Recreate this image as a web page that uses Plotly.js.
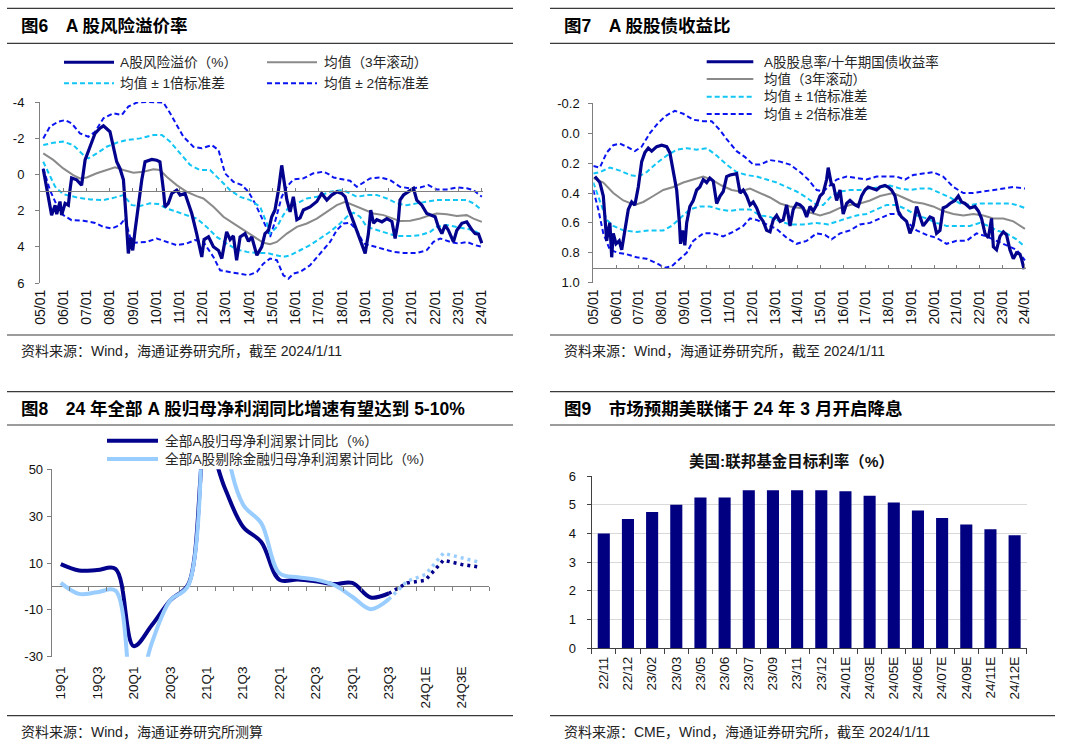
<!DOCTYPE html>
<html><head><meta charset="utf-8">
<script src="https://cdn.plot.ly/plotly-3.0.1.min.js"></script>
<style>html,body{margin:0;padding:0;background:#fff;}#chart{width:1080px;height:747px;}</style>
</head><body><div id="chart"></div>
<script>
// ---------- 图6 A股风险溢价率 (x: decimal year) ----------
const rpX = [2005.14,2005.29,2005.43,2005.50,2005.65,2005.72,2005.86,2005.93,2006.08,2006.22,2006.29,2006.36,2006.58,2006.79,2006.94,2007.08,2007.22,2007.37,2007.58,2007.73,2008.01,2008.16,2008.30,2008.44,2008.59,2008.70,2008.80,2008.90,2008.99,2009.09,2009.23,2009.38,2009.52,2009.81,2010.02,2010.16,2010.31,2010.38,2010.52,2010.67,2010.88,2011.03,2011.24,2011.38,2011.53,2011.74,2011.96,2012.06,2012.25,2012.46,2012.68,2012.82,2013.03,2013.18,2013.32,2013.46,2013.61,2013.82,2013.97,2014.11,2014.33,2014.54,2014.68,2014.83,2014.97,2015.11,2015.26,2015.40,2015.50,2015.62,2015.76,2015.90,2016.05,2016.19,2016.33,2016.62,2016.91,2017.12,2017.34,2017.55,2017.77,2017.98,2018.13,2018.27,2018.49,2018.63,2018.84,2018.99,2019.13,2019.23,2019.35,2019.49,2019.71,2019.92,2020.14,2020.28,2020.42,2020.49,2020.64,2020.85,2021.07,2021.21,2021.43,2021.64,2021.86,2022.00,2022.14,2022.29,2022.43,2022.57,2022.79,2022.93,2023.15,2023.36,2023.59,2023.72,2023.87,2024.01];
const rpY = [-0.3,0.7,1.6,2.25,1.7,2.2,1.5,2.25,1.6,1.7,0.87,0.2,0.3,0.6,-0.8,-1.25,-1.7,-2.27,-2.55,-2.68,-2.36,-1.53,-0.7,-0.33,0.3,2.3,4.37,3.5,4.2,3.1,1.6,0.3,-0.7,-0.83,-0.78,-0.7,0.87,1.8,1.6,1.05,0.87,1.14,1.05,1.6,2.16,3.27,4.56,3.6,3.45,4.0,4.2,4.65,3.17,3.6,3.4,4.74,3.45,3.27,3.7,3.45,4.47,4.0,3.27,3.1,2.34,1.97,0.87,-0.5,0.3,1.4,2.07,1.24,2.5,2.4,1.97,1.8,1.5,1.05,1.42,1.14,0.96,1.05,1.24,1.88,2.62,3.08,3.82,4.37,3.27,1.97,2.7,2.5,2.62,2.44,2.6,3.54,2.5,1.42,1.14,0.96,0.77,1.42,1.7,2.16,2.25,2.34,2.9,3.27,2.8,3.08,3.73,3.1,2.7,2.62,3.08,3.27,3.3,3.8];
const rpMeanX = [2005.14,2005.57,2006.00,2006.43,2006.72,2007.01,2007.44,2007.87,2008.23,2008.59,2009.02,2009.45,2009.88,2010.16,2010.45,2010.88,2011.31,2011.74,2012.03,2012.46,2012.89,2013.32,2013.75,2014.18,2014.61,2014.90,2015.19,2015.62,2016.05,2016.48,2016.91,2017.34,2017.77,2018.13,2018.49,2018.92,2019.35,2019.78,2020.21,2020.49,2020.93,2021.36,2021.79,2022.07,2022.50,2022.93,2023.36,2023.65,2024.01];
const rpMeanY = [-1.16,-0.8,-0.33,0.04,0.22,0.17,-0.06,-0.24,-0.39,-0.24,-0.09,-0.15,-0.28,-0.24,0.13,0.59,0.96,1.2,1.33,1.79,2.34,2.71,3.08,3.45,3.78,3.86,3.73,3.27,2.9,2.71,2.44,2.07,1.7,1.51,1.7,1.97,2.16,2.25,2.44,2.58,2.56,2.44,2.25,2.16,2.2,2.3,2.25,2.44,2.62];
const rpS1UpX = [2005.14,2005.57,2006.00,2006.43,2006.87,2007.08,2007.44,2007.87,2008.30,2008.73,2009.30,2009.88,2010.24,2010.60,2011.03,2011.46,2011.89,2012.32,2012.75,2013.18,2013.61,2014.04,2014.47,2014.76,2014.90,2015.19,2015.47,2015.76,2016.05,2016.48,2016.91,2017.48,2017.91,2018.20,2018.63,2019.06,2019.49,2019.92,2020.35,2020.78,2021.21,2021.64,2022.07,2022.50,2022.93,2023.36,2023.65,2024.01];
const rpS1UpY = [-1.62,-1.75,-1.81,-1.62,-1.07,-0.89,-1.16,-1.53,-1.75,-1.9,-1.99,-2.18,-2.18,-1.81,-1.16,-0.52,-0.24,-0.24,0.31,0.87,1.24,1.42,1.79,2.71,3.27,2.9,2.25,1.7,1.6,1.33,1.24,0.96,0.87,0.96,1.24,1.14,1.14,1.33,1.6,1.7,1.6,1.51,1.42,1.42,1.42,1.42,1.6,1.97];
const rpS1LoX = [2005.14,2005.36,2005.65,2006.00,2006.58,2007.15,2007.73,2008.23,2008.59,2008.95,2009.30,2009.73,2010.09,2010.45,2010.88,2011.31,2011.74,2012.17,2012.60,2013.03,2013.46,2013.90,2014.33,2014.76,2015.19,2015.47,2015.76,2016.19,2016.62,2017.05,2017.48,2017.91,2018.20,2018.49,2018.77,2019.06,2019.49,2019.92,2020.35,2020.93,2021.36,2021.79,2022.07,2022.50,2022.93,2023.36,2023.65,2024.01];
const rpS1LoY = [-0.7,-0.06,0.68,1.09,1.27,1.38,1.42,1.27,1.14,1.7,1.75,1.6,1.64,1.88,2.07,2.25,2.44,2.9,3.45,3.82,4.15,4.28,4.34,4.34,4.47,4.56,4.47,4.19,3.91,3.54,3.17,2.71,2.34,2.12,2.34,2.9,3.08,3.27,3.41,3.41,3.36,3.17,2.9,2.8,2.9,2.99,3.08,3.36];
const rpS2UpX = [2005.14,2005.43,2005.79,2006.08,2006.36,2006.72,2007.08,2007.37,2007.73,2008.16,2008.52,2008.80,2009.16,2009.66,2010.31,2010.60,2010.88,2011.17,2011.60,2011.96,2012.39,2012.68,2012.96,2013.32,2013.68,2013.97,2014.25,2014.54,2014.76,2014.90,2015.11,2015.40,2015.62,2015.90,2016.33,2016.76,2017.19,2017.41,2017.63,2018.06,2018.34,2018.63,2018.92,2019.20,2019.63,2020.06,2020.49,2020.93,2021.36,2021.71,2022.07,2022.50,2022.93,2023.36,2023.65,2024.01];
const rpS2UpY = [-1.99,-2.64,-2.92,-3.0,-2.82,-2.27,-2.08,-2.36,-3.1,-3.38,-3.28,-3.75,-3.97,-4.0,-3.97,-3.38,-2.73,-2.08,-1.53,-1.44,-1.62,-1.35,-0.06,0.41,0.59,0.96,1.6,2.34,2.99,3.45,2.62,1.24,0.68,0.28,0.22,-0.06,-0.15,-0.02,0.17,0.28,0.35,0.68,0.46,0.22,0.17,0.31,0.68,0.77,0.72,0.59,0.83,0.83,0.72,0.77,0.87,1.24];
const rpS2LoX = [2005.14,2005.43,2005.72,2006.00,2006.36,2006.87,2007.37,2007.73,2008.08,2008.44,2008.66,2008.87,2009.09,2009.59,2010.02,2010.45,2010.88,2011.31,2011.67,2012.03,2012.46,2012.75,2013.18,2013.61,2013.97,2014.33,2014.61,2014.90,2015.19,2015.47,2015.69,2015.90,2016.19,2016.62,2017.05,2017.48,2017.77,2018.06,2018.34,2018.63,2018.92,2019.35,2019.78,2020.21,2020.64,2021.21,2021.64,2021.93,2022.22,2022.65,2023.01,2023.36,2023.72,2024.01];
const rpS2LoY = [-0.33,0.87,1.7,2.25,2.53,2.56,2.68,2.9,2.99,2.8,2.44,3.45,3.78,3.73,3.54,3.73,3.91,3.82,3.63,3.73,4.56,5.3,5.39,5.48,5.57,5.39,4.93,4.65,4.74,5.57,5.76,5.48,5.39,5.02,4.37,3.73,3.08,2.71,2.68,3.08,3.82,3.97,4.1,4.28,4.34,4.34,4.19,3.73,3.54,3.73,3.82,3.73,3.91,4.0];
const rpTickVals = [-4,-2,0,2,4,6];
const rpTickText = ['-4','-2','0','2','4','6'];

// ---------- 图7 A股股债收益比 ----------
const dyX = [2005.07,2005.29,2005.44,2005.51,2005.59,2005.66,2005.73,2005.81,2005.88,2006.00,2006.14,2006.25,2006.39,2006.54,2006.69,2006.83,2006.98,2007.13,2007.27,2007.42,2007.57,2007.79,2008.01,2008.23,2008.37,2008.52,2008.67,2008.79,2008.84,2008.93,2009.03,2009.11,2009.25,2009.40,2009.55,2009.69,2009.84,2009.99,2010.13,2010.28,2010.43,2010.58,2010.72,2010.87,2011.02,2011.31,2011.46,2011.60,2011.75,2011.90,2012.04,2012.19,2012.34,2012.48,2012.63,2012.78,2012.92,2013.07,2013.22,2013.36,2013.51,2013.66,2013.80,2013.95,2014.10,2014.24,2014.39,2014.54,2014.68,2014.83,2014.98,2015.12,2015.27,2015.34,2015.42,2015.49,2015.56,2015.71,2015.86,2016.00,2016.15,2016.30,2016.52,2016.66,2016.81,2016.96,2017.10,2017.32,2017.47,2017.62,2017.84,2017.98,2018.13,2018.28,2018.42,2018.57,2018.79,2018.94,2019.08,2019.23,2019.38,2019.52,2019.67,2019.82,2019.96,2020.11,2020.26,2020.40,2020.55,2020.70,2020.92,2021.07,2021.21,2021.36,2021.58,2021.80,2021.95,2022.09,2022.24,2022.39,2022.53,2022.61,2022.75,2022.90,2023.05,2023.19,2023.34,2023.49,2023.63,2023.78,2023.85,2023.96];
const dyY = [0.29,0.33,0.42,0.58,0.72,0.65,0.60,0.83,0.67,0.74,0.72,0.78,0.65,0.51,0.46,0.48,0.36,0.19,0.13,0.10,0.12,0.09,0.08,0.09,0.13,0.27,0.38,0.60,0.74,0.65,0.75,0.60,0.49,0.45,0.38,0.36,0.31,0.33,0.30,0.32,0.47,0.42,0.39,0.29,0.28,0.27,0.40,0.38,0.42,0.48,0.46,0.50,0.56,0.59,0.65,0.66,0.58,0.55,0.59,0.58,0.48,0.62,0.51,0.47,0.48,0.50,0.56,0.49,0.52,0.48,0.42,0.40,0.31,0.23,0.31,0.35,0.34,0.45,0.38,0.54,0.47,0.45,0.48,0.49,0.42,0.38,0.36,0.37,0.38,0.36,0.35,0.36,0.38,0.42,0.52,0.56,0.59,0.67,0.62,0.49,0.56,0.62,0.59,0.56,0.57,0.67,0.65,0.50,0.49,0.47,0.45,0.42,0.46,0.47,0.50,0.49,0.52,0.57,0.67,0.70,0.57,0.76,0.78,0.69,0.66,0.68,0.78,0.84,0.80,0.81,0.84,0.91];
const dyMeanX = [2005.00,2005.44,2005.88,2006.32,2006.83,2007.20,2007.64,2008.08,2008.52,2008.96,2009.40,2009.84,2010.21,2010.65,2011.09,2011.46,2011.90,2012.34,2012.78,2013.22,2013.66,2014.10,2014.54,2014.98,2015.42,2015.86,2016.30,2016.74,2017.18,2017.62,2018.20,2018.64,2019.08,2019.52,2019.96,2020.40,2020.85,2021.29,2021.73,2022.17,2022.61,2023.05,2023.49,2024.00];
const dyMeanY = [0.30,0.33,0.40,0.45,0.48,0.46,0.42,0.38,0.36,0.33,0.31,0.29,0.31,0.35,0.38,0.39,0.37,0.40,0.43,0.47,0.49,0.50,0.53,0.55,0.53,0.50,0.48,0.47,0.45,0.42,0.40,0.43,0.46,0.47,0.49,0.52,0.54,0.55,0.54,0.55,0.57,0.57,0.59,0.64];
const dyS1UpX = [2005.00,2005.29,2005.73,2006.17,2006.61,2006.98,2007.35,2007.79,2008.23,2008.67,2009.11,2009.55,2009.99,2010.43,2010.87,2011.31,2011.75,2012.19,2012.63,2013.07,2013.51,2013.95,2014.39,2014.83,2015.12,2015.49,2015.86,2016.30,2016.74,2017.18,2017.62,2018.06,2018.50,2018.94,2019.38,2019.82,2020.26,2020.70,2021.14,2021.58,2022.02,2022.47,2022.91,2023.34,2023.63,2024.00];
const dyS1UpY = [0.27,0.26,0.23,0.25,0.28,0.29,0.26,0.20,0.15,0.11,0.10,0.11,0.10,0.15,0.21,0.26,0.28,0.29,0.31,0.33,0.36,0.39,0.43,0.48,0.48,0.42,0.39,0.38,0.38,0.37,0.36,0.35,0.37,0.38,0.37,0.37,0.40,0.43,0.47,0.48,0.47,0.47,0.47,0.47,0.48,0.50];
const dyS1LoX = [2005.00,2005.29,2005.59,2005.88,2006.32,2006.91,2007.49,2008.08,2008.45,2008.81,2009.25,2009.69,2010.13,2010.58,2011.02,2011.46,2011.90,2012.34,2012.78,2013.22,2013.66,2014.24,2014.83,2015.34,2015.71,2016.15,2016.59,2017.03,2017.47,2017.91,2018.35,2018.79,2019.23,2019.67,2020.11,2020.55,2021.14,2021.58,2022.02,2022.39,2022.75,2023.19,2023.63,2024.00];
const dyS1LoY = [0.33,0.45,0.58,0.62,0.65,0.66,0.65,0.65,0.62,0.57,0.51,0.49,0.49,0.51,0.52,0.51,0.51,0.55,0.56,0.59,0.61,0.61,0.60,0.61,0.59,0.57,0.55,0.54,0.51,0.48,0.48,0.51,0.55,0.57,0.60,0.62,0.62,0.62,0.60,0.62,0.65,0.67,0.71,0.76];
const dyS2UpX = [2005.00,2005.29,2005.59,2005.88,2006.17,2006.47,2006.83,2007.13,2007.49,2007.86,2008.23,2008.59,2008.96,2009.40,2009.84,2010.21,2010.58,2010.87,2011.31,2011.68,2012.04,2012.34,2012.78,2013.22,2013.66,2014.10,2014.46,2014.83,2015.12,2015.42,2015.71,2016.15,2016.59,2017.03,2017.47,2017.91,2018.35,2018.72,2019.08,2019.52,2019.96,2020.40,2020.85,2021.29,2021.73,2022.17,2022.61,2023.05,2023.49,2024.00];
const dyS2UpY = [0.22,0.23,0.13,0.08,0.07,0.09,0.12,0.09,0.00,-0.07,-0.12,-0.15,-0.13,-0.09,-0.08,-0.08,-0.02,0.04,0.12,0.16,0.21,0.21,0.18,0.19,0.21,0.26,0.31,0.38,0.39,0.35,0.31,0.29,0.30,0.31,0.29,0.29,0.29,0.31,0.28,0.27,0.26,0.29,0.36,0.40,0.40,0.39,0.38,0.37,0.36,0.37];
const dyS2LoX = [2005.00,2005.22,2005.44,2005.73,2006.10,2006.47,2006.91,2007.35,2007.79,2008.15,2008.45,2008.81,2009.11,2009.40,2009.84,2010.28,2010.72,2011.16,2011.60,2011.90,2012.19,2012.63,2013.07,2013.51,2013.95,2014.39,2014.83,2015.20,2015.49,2015.86,2016.30,2016.74,2017.18,2017.62,2018.06,2018.42,2018.79,2019.23,2019.67,2020.11,2020.55,2020.99,2021.43,2021.87,2022.31,2022.75,2023.19,2023.63,2024.00];
const dyS2LoY = [0.38,0.51,0.67,0.78,0.80,0.81,0.83,0.84,0.87,0.90,0.89,0.84,0.80,0.72,0.67,0.67,0.69,0.66,0.62,0.57,0.58,0.61,0.64,0.70,0.74,0.72,0.67,0.68,0.71,0.67,0.65,0.61,0.60,0.57,0.54,0.54,0.59,0.65,0.68,0.70,0.74,0.72,0.72,0.67,0.69,0.72,0.75,0.78,0.85];
const dyTickVals = [-0.2,0,0.2,0.4,0.6,0.8,1.0];
const dyTickText = ['-0.2','0.0','0.2','0.4','0.6','0.8','1.0'];

const yearTicks = [2005,2006,2007,2008,2009,2010,2011,2012,2013,2014,2015,2016,2017,2018,2019,2020,2021,2022,2023,2024];
const yearTickLabels = ['05/01','06/01','07/01','08/01','09/01','10/01','11/01','12/01','13/01','14/01','15/01','16/01','17/01','18/01','19/01','20/01','21/01','22/01','23/01','24/01'];

// ---------- 图8 归母净利润累计同比 ----------
const quarters = ['19Q1','19Q2','19Q3','19Q4','20Q1','20Q2','20Q3','20Q4','21Q1','21Q2','21Q3','21Q4','22Q1','22Q2','22Q3','22Q4','23Q1','23Q2','23Q3','23Q4','24Q1E','24Q2E','24Q3E','24Q4E'];
const actualQuarters = ['19Q1','19Q2','19Q3','19Q4','20Q1','20Q2','20Q3','20Q4','21Q1','21Q2','21Q3','21Q4','22Q1','22Q2','22Q3','22Q4','23Q1','23Q2','23Q3'];
const allAProfit = [9.5,6.8,7.0,7.5,-25.5,-16.5,-6,1,62,42,25.5,19,2.8,3.0,2.2,1.0,1.5,-4.7,-3];
const exFinProfit = [1.5,-3.2,-2.5,-1.8,-50,-24,-6,0.5,180,65,35,27,5.6,3.9,2.9,0.6,-4.4,-9.7,-5.5];
const forecastQuarters = ['23Q3','23Q4','24Q1E','24Q2E','24Q3E','24Q4E'];
const allAForecast = [-3,1.5,2.6,11.2,9.4,8.2];
const exFinForecast = [-5.5,2.2,5.0,14.2,12.2,10.3];
const quarterTickLabels = ['19Q1','19Q3','20Q1','20Q3','21Q1','21Q3','22Q1','22Q3','23Q1','23Q3','24Q1E','24Q3E'];
const profitTickVals = [-30,-10,10,30,50];
const profitTickText = ['-30','-10','10','30','50'];

// ---------- 图9 联邦基金目标利率 ----------
const fedMonths = ['22/11','22/12','23/02','23/03','23/05','23/06','23/07','23/09','23/11','23/12','24/01E','24/03E','24/05E','24/06E','24/07E','24/09E','24/11E','24/12E'];
const fedRate = [4.0,4.5,4.75,5.0,5.25,5.25,5.5,5.5,5.5,5.5,5.47,5.31,5.08,4.8,4.54,4.31,4.15,3.94];

// ---------- text ----------
const titles = ['图6\u2003A 股风险溢价率','图7\u2003A 股股债收益比','图8\u200324 年全部 A 股归母净利润同比增速有望达到 5-10%','图9\u2003市场预期美联储于 24 年 3 月开启降息'];
const sources = ['资料来源：Wind，海通证券研究所，截至 2024/1/11','资料来源：Wind，海通证券研究所，截至 2024/1/11','资料来源：Wind，海通证券研究所测算','资料来源：CME，Wind，海通证券研究所，截至 2024/1/11'];
const legend6 = ['A股风险溢价（%）','均值（3年滚动）','均值 ± 1倍标准差','均值 ± 2倍标准差'];
const legend7 = ['A股股息率/十年期国债收益率','均值（3年滚动）','均值 ± 1倍标准差','均值 ± 2倍标准差'];
const legend8 = ['全部A股归母净利润累计同比（%）','全部A股剔除金融归母净利润累计同比（%）'];
const fedTitle = '美国:联邦基金目标利率（%）';

// ---------- layout helpers ----------
const W = 1080, H = 747;
const FONT = 'Liberation Sans, "Noto Sans CJK SC", sans-serif';
const fx = v => v / W;
const fy = v => 1 - v / H;
const NAVY = '#02028c', CYAN = '#11c6f5', BLUE = '#0a14f0', GRAY = '#8a8a8a', LIGHT = '#99ccff', BAR = '#000080';
const AXC = '#7f7f7f', TXT = '#111111';

function ln(x, y, xa, ya, color, width, dash, shape) {
  return {type:'scatter', mode:'lines', x:x, y:y, xaxis:xa, yaxis:ya,
    line:{color:color, width:width, dash:dash || 'solid', shape:shape || 'linear', smoothing:1},
    hoverinfo:'skip', showlegend:false};
}
const D = '5px,3px';
const traces = [
  ln(rpS2UpX, rpS2UpY, 'x', 'y', BLUE, 2, D),
  ln(rpS2LoX, rpS2LoY, 'x', 'y', BLUE, 2, D),
  ln(rpS1UpX, rpS1UpY, 'x', 'y', CYAN, 2, D),
  ln(rpS1LoX, rpS1LoY, 'x', 'y', CYAN, 2, D),
  ln(rpMeanX, rpMeanY, 'x', 'y', GRAY, 2),
  ln(rpX, rpY, 'x', 'y', NAVY, 3.2),
  ln(dyS2UpX, dyS2UpY, 'x2', 'y2', BLUE, 2, D),
  ln(dyS2LoX, dyS2LoY, 'x2', 'y2', BLUE, 2, D),
  ln(dyS1UpX, dyS1UpY, 'x2', 'y2', CYAN, 2, D),
  ln(dyS1LoX, dyS1LoY, 'x2', 'y2', CYAN, 2, D),
  ln(dyMeanX, dyMeanY, 'x2', 'y2', GRAY, 2),
  ln(dyX, dyY, 'x2', 'y2', NAVY, 3.2),
  ln(actualQuarters, allAProfit, 'x3', 'y3', NAVY, 4, 'solid', 'spline'),
  ln(actualQuarters, exFinProfit, 'x3', 'y3', LIGHT, 4, 'solid', 'spline'),
  ln(forecastQuarters, allAForecast, 'x3', 'y3', NAVY, 3.5, '3px,4px'),
  ln(forecastQuarters, exFinForecast, 'x3', 'y3', LIGHT, 3.5, '3px,4px'),
  {type:'bar', x:fedMonths, y:fedRate, xaxis:'x4', yaxis:'y4', marker:{color:BAR, line:{width:0}}, hoverinfo:'skip', showlegend:false},
  {type:'scatter', mode:'lines', x:[], y:[], xaxis:'x5', yaxis:'y', showlegend:false},
  {type:'scatter', mode:'lines', x:[], y:[], xaxis:'x6', yaxis:'y2', showlegend:false},
  {type:'scatter', mode:'lines', x:[], y:[], xaxis:'x7', yaxis:'y3', showlegend:false}
];

// plot boxes in page pixels
const P1 = {l:40, r:483, t:102, b:283, lo:-4, hi:6, cross:0.9};
const P2 = {l:593.3, r:1026.3, t:103.3, b:282.7, lo:-0.2, hi:1.0, cross:0.9};
const P3 = {l:51.7, r:489, t:469.3, b:656.7, lo:-30, hi:50};
const P4 = {l:591.7, r:1026.7, t:476, b:648.3};
const xr = [2005, 2024.06];
function crossPos(P, v) { // reversed axis: hi at bottom
  const d0 = fy(P.b), d1 = fy(P.t);
  return d0 + (P.hi - v) / (P.hi - P.lo) * (d1 - d0);
}
const tickFont = {family:FONT, size:13, color:TXT};
const baseX = {showgrid:false, zeroline:false, showline:false, ticks:'', tickangle:-90, tickfont:tickFont, fixedrange:true};
const baseY = {showgrid:false, zeroline:false, showline:true, linecolor:AXC, linewidth:1, ticks:'outside', ticklen:4, tickcolor:AXC, tickfont:tickFont, ticklabelstandoff:6, fixedrange:true};
const yearFont = {family:FONT, size:14, color:TXT};

const layout = {
  width:W, height:H, margin:{l:0,r:0,t:0,b:0}, paper_bgcolor:'#fff', plot_bgcolor:'#fff',
  font:{family:FONT, size:13, color:TXT}, showlegend:false, bargap:0.5,
  xaxis: Object.assign({}, baseX, {domain:[fx(P1.l), fx(P1.r)], range:xr, anchor:'y', tickmode:'array', tickvals:yearTicks, ticktext:yearTickLabels, ticklabelstandoff:3, tickfont:yearFont}),
  yaxis: Object.assign({}, baseY, {domain:[fy(P1.b), fy(P1.t)], range:[P1.hi, P1.lo], anchor:'x', tickmode:'array', tickvals:rpTickVals, ticktext:rpTickText, ticklabelstandoff:8}),
  xaxis2: Object.assign({}, baseX, {domain:[fx(P2.l), fx(P2.r)], range:xr, anchor:'y2', tickmode:'array', tickvals:yearTicks, ticktext:yearTickLabels, ticklabelstandoff:3, tickfont:yearFont}),
  yaxis2: Object.assign({}, baseY, {domain:[fy(P2.b), fy(P2.t)], range:[P2.hi, P2.lo], anchor:'x2', tickmode:'array', tickvals:dyTickVals, ticktext:dyTickText}),
  xaxis3: Object.assign({}, baseX, {domain:[fx(P3.l), fx(P3.r)], type:'category', categoryorder:'array', categoryarray:quarters, range:[-0.5, quarters.length - 0.5], anchor:'y3', tickmode:'array', tickvals:quarterTickLabels, ticktext:quarterTickLabels, ticklabelstandoff:6, tickfont:{family:FONT, size:13.5, color:TXT}}),
  yaxis3: Object.assign({}, baseY, {domain:[fy(P3.b), fy(P3.t)], range:[P3.lo, P3.hi], anchor:'x3', tickmode:'array', tickvals:profitTickVals, ticktext:profitTickText, zeroline:true, zerolinecolor:AXC, zerolinewidth:1, ticklabelstandoff:1}),
  xaxis4: Object.assign({}, baseX, {domain:[fx(P4.l), fx(P4.r)], type:'category', anchor:'y4', showline:true, linecolor:'#404040', ticks:'outside', tickson:'boundaries', ticklen:5, tickcolor:'#404040', ticklabelstandoff:2, tickfont:{family:FONT, size:13.5, color:TXT}}),
  yaxis4: Object.assign({}, baseY, {domain:[fy(P4.b), fy(P4.t)], range:[0, 6], dtick:1, anchor:'x4', showgrid:true, gridcolor:'#d9d9d9', linecolor:'#404040', tickcolor:'#404040', ticklabelstandoff:8}),
  xaxis5: {overlaying:'x', anchor:'free', position:crossPos(P1, P1.cross), range:xr, showline:true, linecolor:AXC, linewidth:1, ticks:'inside', ticklen:3, tickcolor:AXC, tick0:2005, dtick:1, showticklabels:false, showgrid:false, zeroline:false, fixedrange:true},
  xaxis6: {overlaying:'x2', anchor:'free', position:crossPos(P2, P2.cross), range:xr, showline:true, linecolor:AXC, linewidth:1, ticks:'inside', ticklen:3, tickcolor:AXC, tick0:2005, dtick:1, showticklabels:false, showgrid:false, zeroline:false, fixedrange:true},
  xaxis7: {overlaying:'x3', anchor:'free', position:fy(P3.b) + (0 - P3.lo) / (P3.hi - P3.lo) * (fy(P3.t) - fy(P3.b)), range:[-0.5, quarters.length - 0.5], showline:false, ticks:'outside', ticklen:4, tickcolor:AXC, tick0:-0.5, dtick:1, showticklabels:false, showgrid:false, zeroline:false, fixedrange:true},
  shapes: [], annotations: []
};

// separator rules
const rules = [[7,513,8.3],[7,513,43.3],[7,513,335],[550,1055,8.3],[550,1055,43.3],[550,1055,335],
               [7,513,391.7],[7,513,425],[7,513,715.7],[550,1055,391.7],[550,1055,425],[550,1055,715.7]];
rules.forEach(r => layout.shapes.push({type:'line', xref:'paper', yref:'paper', x0:fx(r[0]), x1:fx(r[1]), y0:fy(r[2]), y1:fy(r[2]), line:{color:'#3a3a3a', width:1.2}}));

function txt(s, x, y, size, opts) {
  layout.annotations.push(Object.assign({text:s, xref:'paper', yref:'paper', x:fx(x), y:fy(y), xanchor:'left', yanchor:'middle', showarrow:false, font:{family:FONT, size:size, color:TXT}}, opts || {}));
}
// titles
const titlePos = [[19,26],[561.7,26],[19,409],[561.7,409]];
titles.forEach((t,i) => txt('<b>' + t + '</b>', titlePos[i][0], titlePos[i][1], 17.5, {font:{family:FONT, size:17.5, color:'#000'}}));
// sources
const srcPos = [[19,351],[561.7,351],[19,731.7],[561.7,731.7]];
sources.forEach((t,i) => txt(t, srcPos[i][0], srcPos[i][1], 14, {font:{family:FONT, size:14, color:'#222'}}));

function legLine(x0, x1, y, color, width, dash) {
  layout.shapes.push({type:'line', xref:'paper', yref:'paper', x0:fx(x0), x1:fx(x1), y0:fy(y), y1:fy(y), line:{color:color, width:width, dash:dash || 'solid'}});
}
const LEGF = {family:FONT, size:13.7, color:'#262626'};
// legend 图6
const lg6 = [[64,114,118,62.3,NAVY,3,null],[267,317,322,62.3,GRAY,2,null],[64,114,118,83.3,CYAN,2,D],[267,317,322,83.3,BLUE,2,D]];
lg6.forEach((e,i) => { legLine(e[0], e[1], e[3], e[4], e[5], e[6]); txt(legend6[i], e[2], e[3], 13.7, {font:LEGF}); });
// legend 图7
const lg7 = [[61.7,NAVY,3,null],[79,GRAY,2,null],[96.7,CYAN,2,D],[114,BLUE,2,D]];
lg7.forEach((e,i) => { legLine(706.7, 753.3, e[0], e[1], e[2], e[3]); txt(legend7[i], 761.7, e[0], 13.5, {font:{family:FONT, size:13.5, color:'#262626'}}); });
// legend 图8
const lg8 = [[440.7,NAVY],[459,LIGHT]];
lg8.forEach((e,i) => { legLine(107, 158, e[0], e[1], 4); txt(legend8[i], 163, e[0], 13.7, {font:LEGF}); });
// 图9 chart title
txt('<b>' + fedTitle + '</b>', 791.5, 461, 15.5, {xanchor:'center', font:{family:FONT, size:15.5, color:'#111'}});

Plotly.newPlot('chart', traces, layout, {staticPlot:true, displayModeBar:false});
</script></body></html>
